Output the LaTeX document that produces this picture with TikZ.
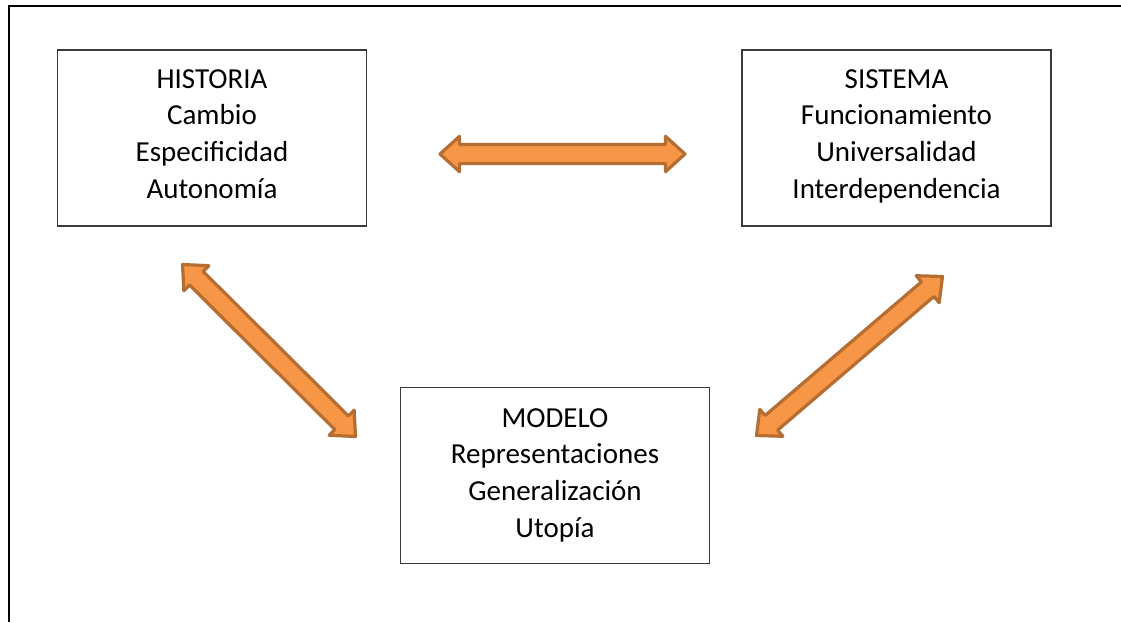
\documentclass[tikz,border=0pt]{standalone}
\usepackage{fontspec}
\setmainfont{Carlito}
\usetikzlibrary{calc}

\definecolor{arrowfill}{HTML}{F79646}
\definecolor{arrowline}{HTML}{B66D31}
\definecolor{boxline}{HTML}{3A3A3A}

% head length, barb half-width and shaft half-width of the double arrows
\newcommand{\arrhead}{19.5pt}
\newcommand{\arrbarb}{17.7pt}
\newcommand{\arrshaft}{9.6pt}

% block double arrow between two named coordinates
\newcommand{\twowayarrow}[2]{%
  \path ($(#1)!\arrhead!(#2)$) coordinate (#1#2p) ($(#2)!\arrhead!(#1)$) coordinate (#1#2q);
  \draw[blockarrow] (#1)
    -- ($(#1#2p)!\arrbarb!90:(#2)$) -- ($(#1#2p)!\arrshaft!90:(#2)$)
    -- ($(#1#2q)!\arrshaft!-90:(#1)$) -- ($(#1#2q)!\arrbarb!-90:(#1)$)
    -- (#2)
    -- ($(#1#2q)!\arrbarb!90:(#1)$) -- ($(#1#2q)!\arrshaft!90:(#1)$)
    -- ($(#1#2p)!\arrshaft!-90:(#2)$) -- ($(#1#2p)!\arrbarb!-90:(#2)$)
    -- cycle;}

\tikzset{
  conceptbox/.style={draw=boxline, line width=1.2pt, minimum width=309pt,
    minimum height=176pt, inner sep=0pt},
  concepttext/.style={anchor=north, inner sep=0pt, align=center,
    font=\fontsize{29}{36.7}\selectfont},
  blockarrow/.style={fill=arrowfill, draw=arrowline, line width=3.2pt, line join=round},
  frameline/.style={draw=black, line width=2.5pt}
}

\begin{document}
\begin{tikzpicture}[x=1pt, y=-1pt]
  \useasboundingbox (0,0) rectangle (1121,622);
  \fill[white] (0,0) rectangle (1121,622);

  % surrounding frame, open towards the right and the bottom
  \draw[frameline] (9,622) -- (9,6) -- (1121,6);

  % concept boxes
  \node[conceptbox] (hist) at (212,138) {};
  \node[conceptbox] (sist) at (896.5,138) {};
  \node[conceptbox] (mod) at (555,475.5) {};

  \node[concepttext] (histtxt) at (212,69) {HISTORIA\\Cambio\\Especificidad\\Autonomía};
  \node[concepttext] (sisttxt) at (896.5,69) {SISTEMA\\Funcionamiento\\Universalidad\\Interdependencia};
  \node[concepttext] (modtxt) at (555,408) {MODELO\\Representaciones\\Generalización\\Utopía};

  % arrow end points
  \coordinate (hs1) at (440,154);
  \coordinate (hs2) at (685,154);
  \coordinate (hm1) at (182.5,264.5);
  \coordinate (hm2) at (355.5,436.5);
  \coordinate (ms1) at (756.5,435.5);
  \coordinate (ms2) at (942.5,276.5);

  \twowayarrow{hs1}{hs2}
  \twowayarrow{hm1}{hm2}
  \twowayarrow{ms1}{ms2}
\end{tikzpicture}
\end{document}
